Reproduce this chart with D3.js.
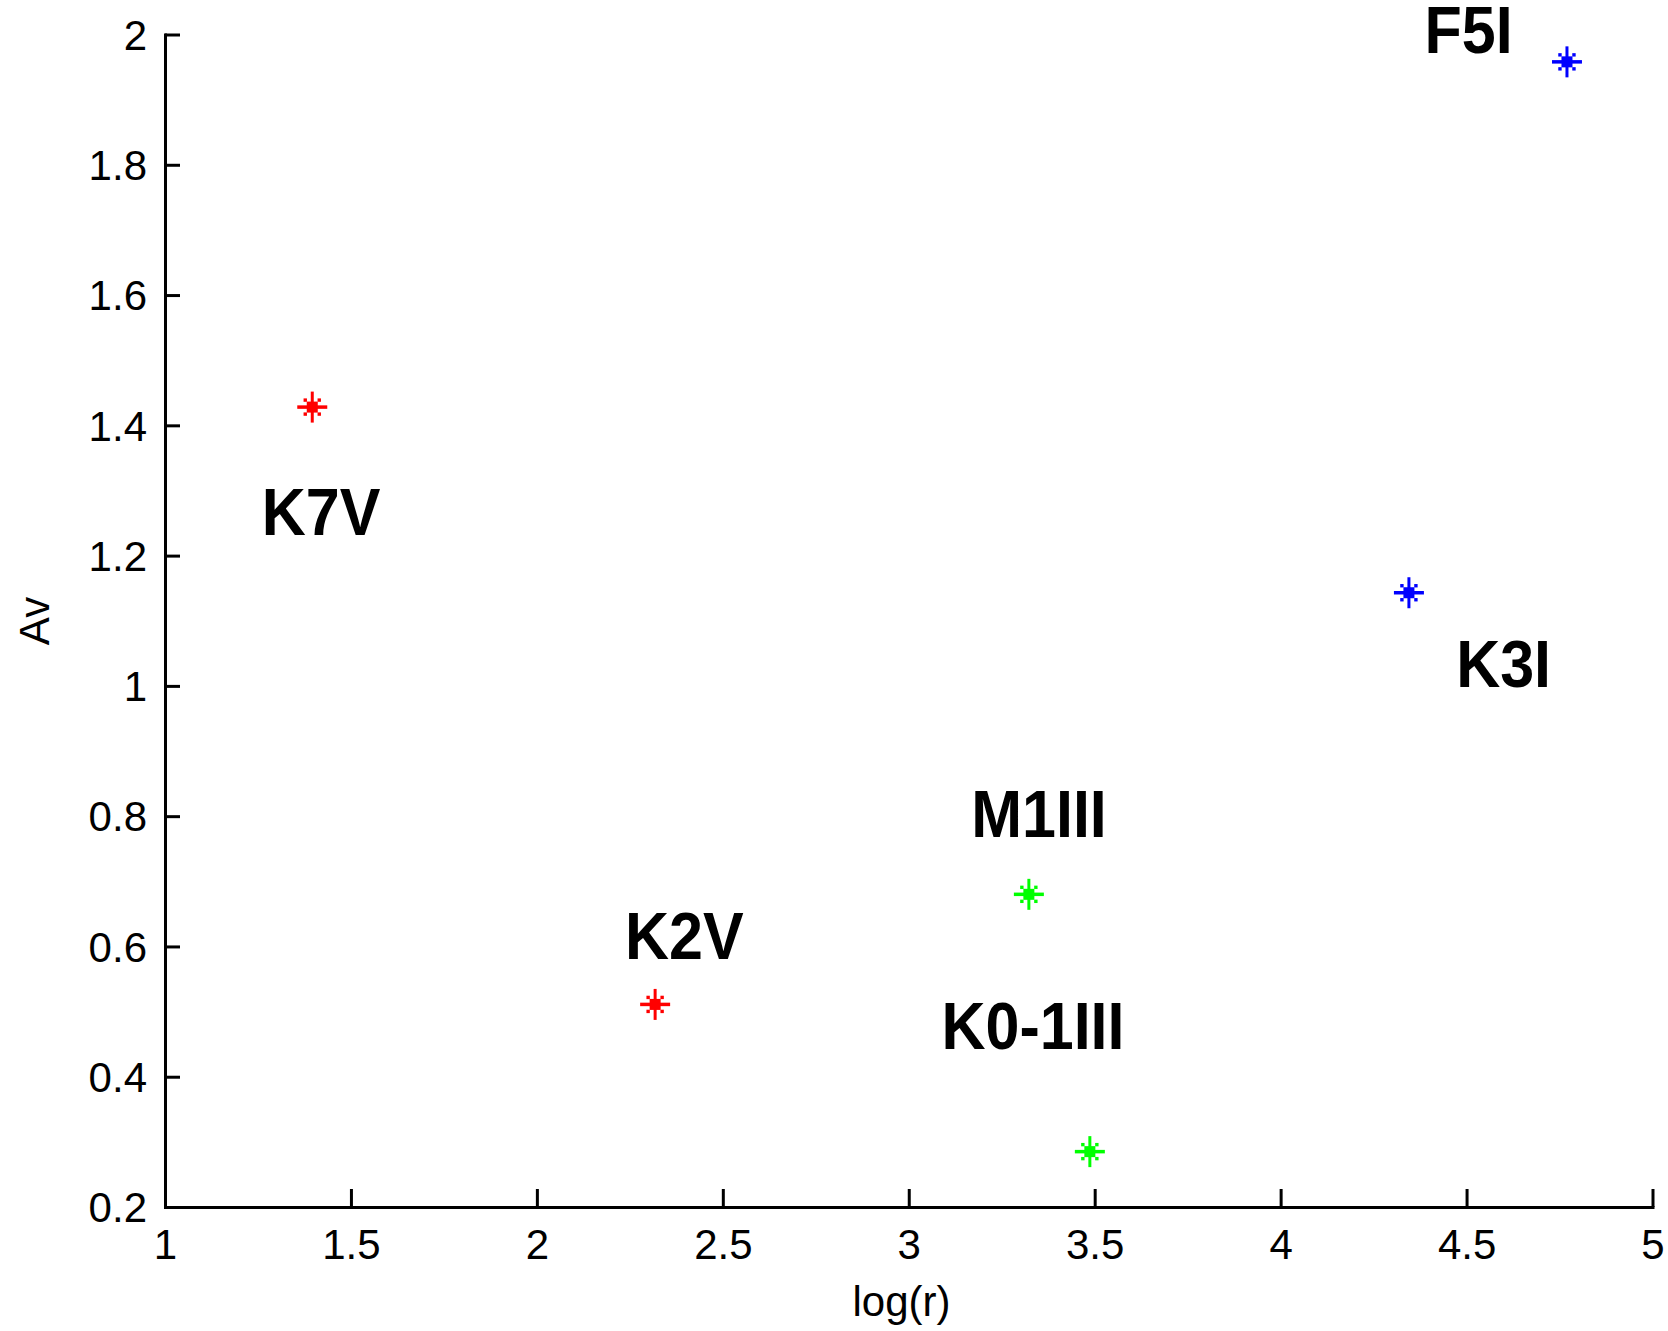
<!DOCTYPE html>
<html>
<head>
<meta charset="utf-8">
<script src="https://cdn.jsdelivr.net/npm/d3@7"></script>
<style>
  html, body { margin: 0; padding: 0; background: #fff; }
  svg { display: block; }
  text { font-family: "Liberation Sans", Arial, sans-serif; }
</style>
</head>
<body>
<svg id="chart" width="1668" height="1331"></svg>
<script>
// ---- data ----
const starNames = ["F5I", "K3I", "K7V", "K2V", "M1III", "K0-1III"];
const logR      = [4.770, 4.345, 1.396, 2.318, 3.323, 3.487];
const av        = [1.958, 1.143, 1.428, 0.511, 0.680, 0.285];
const starColor = ["#0000ff", "#0000ff", "#ff0000", "#ff0000", "#00ff00", "#00ff00"];
// label anchor (left, baseline) in data coordinates
const labelX    = [4.387, 4.472, 1.260, 2.237, 3.168, 3.088];
const labelY    = [1.972, 0.999, 1.231, 0.581, 0.768, 0.442];

const xTicks = [1, 1.5, 2, 2.5, 3, 3.5, 4, 4.5, 5];
const yTicks = [0.2, 0.4, 0.6, 0.8, 1, 1.2, 1.4, 1.6, 1.8, 2];
const xLabel = "log(r)";
const yLabel = "Av";

// ---- layout ----
const svg = d3.select("#chart");
const mLeft = 165, mRight = 1652.5, mTop = 34.5, mBottom = 1207;

const x = d3.scaleLinear().domain([1, 5]).range([mLeft, mRight]);
const y = d3.scaleLinear().domain([0.2, 2]).range([mBottom, mTop]);

const fmt = d => String(+d.toFixed(1));

// axes
const gx = svg.append("g").attr("transform", `translate(0,${mBottom})`)
  .call(d3.axisBottom(x).tickValues(xTicks).tickFormat(fmt).tickSizeInner(-18).tickSizeOuter(0).tickPadding(50));
const gy = svg.append("g").attr("transform", `translate(${mLeft},0)`)
  .call(d3.axisLeft(y).tickValues(yTicks).tickFormat(fmt).tickSizeInner(-15).tickSizeOuter(0).tickPadding(18));

[gx, gy].forEach(g => {
  g.select(".domain").attr("stroke", "#000").attr("stroke-width", 3).attr("stroke-linecap", "square");
  g.selectAll(".tick line").attr("stroke", "#000").attr("stroke-width", 3);
  g.selectAll(".tick text").attr("fill", "#000").attr("font-size", 42).attr("font-family", "'Liberation Sans', Arial, sans-serif");
});
gx.selectAll(".tick text").attr("dy", null).attr("y", 52);
gy.selectAll(".tick text").attr("dy", "0.35em");

// axis titles
svg.append("text")
  .attr("x", 901.5).attr("y", 1316)
  .attr("text-anchor", "middle")
  .attr("font-size", 42)
  .attr("fill", "#000")
  .text(xLabel);
svg.append("text")
  .attr("transform", "translate(49,621) rotate(-90)")
  .attr("text-anchor", "middle")
  .attr("font-size", 42)
  .attr("fill", "#000")
  .text(yLabel);

// markers ('*' style)
const stars = svg.append("g").selectAll("g.star")
  .data(starNames.map((n, i) => ({ n, x: logR[i], y: av[i], c: starColor[i] })))
  .join("g")
  .attr("class", "star")
  .attr("transform", d => `translate(${x(d.x)},${y(d.y)})`);

stars.append("line").attr("x1", -15).attr("x2", 15).attr("y1", 0).attr("y2", 0)
  .attr("stroke", d => d.c).attr("stroke-width", 3.5);
stars.append("line").attr("x1", 0).attr("x2", 0).attr("y1", -15.5).attr("y2", 15.5)
  .attr("stroke", d => d.c).attr("stroke-width", 3);
stars.append("rect").attr("x", -5.5).attr("y", -5.5).attr("width", 11).attr("height", 11)
  .attr("fill", d => d.c);
[[-7, -7], [7, -7], [-7, 7], [7, 7]].forEach(([dx, dy]) => {
  stars.append("rect").attr("x", dx - 1.7).attr("y", dy - 1.7).attr("width", 3.4).attr("height", 3.4)
    .attr("fill", d => d.c);
});

// labels
svg.append("g").selectAll("text.lbl")
  .data(starNames.map((n, i) => ({ n, x: labelX[i], y: labelY[i] })))
  .join("text")
  .attr("class", "lbl")
  .attr("transform", d => `translate(${x(d.x)},${y(d.y)}) scale(1,1.1)`)
  .attr("font-size", 61)
  .attr("font-weight", "bold")
  .attr("fill", "#000")
  .text(d => d.n);
</script>
</body>
</html>
